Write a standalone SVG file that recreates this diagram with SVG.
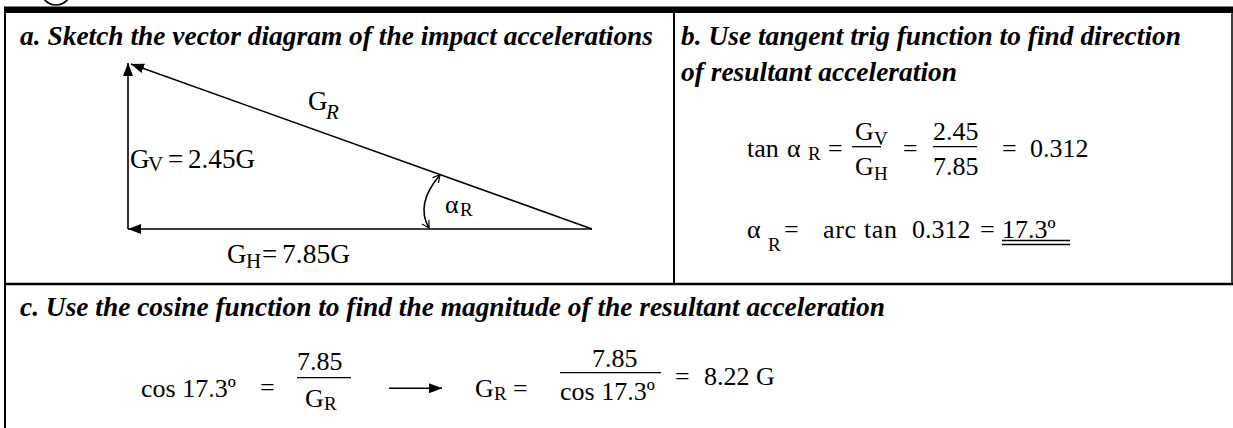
<svg xmlns="http://www.w3.org/2000/svg" width="1233" height="428" viewBox="0 0 1233 428">
<style>
.t{font-family:"Liberation Serif","Times New Roman",serif;font-weight:bold;font-style:italic;font-size:27.4px;fill:#000}
.m{font-family:"Liberation Serif","Times New Roman",serif;font-size:26px;fill:#000}
.v{font-size:27px}
.s{font-size:19px}
.s2{font-size:21px}
.i{font-style:italic}
.fr{stroke:#000;fill:none}
.ln{stroke:#000;stroke-width:1.6;fill:none}
.bar{stroke:#000;stroke-width:1.3}
</style>
<defs>
<marker id="ah" markerUnits="userSpaceOnUse" markerWidth="14" markerHeight="12" refX="13" refY="5" orient="auto"><path d="M0,0 L13,5 L0,10 z" fill="#000"/></marker>
<marker id="oa" markerUnits="userSpaceOnUse" markerWidth="10" markerHeight="10" refX="8" refY="4.5" orient="auto-start-reverse"><path d="M1,0.5 L8,4.5 L1,8.5" fill="none" stroke="#000" stroke-width="1.2"/></marker>
</defs>
<rect width="1233" height="428" fill="#fff"/>
<g id="frame">
<circle cx="56" cy="-10" r="15" class="fr" stroke-width="1.6"/>
<rect x="4" y="6.5" width="1229" height="6.5" fill="#000"/>
<line x1="5" y1="13" x2="5" y2="428" class="fr" stroke-width="2"/>
<line x1="674" y1="13" x2="674" y2="284" class="fr" stroke-width="2"/>
<line x1="4" y1="284" x2="1233" y2="284" class="fr" stroke-width="2.5"/>
<line x1="1232" y1="13" x2="1232" y2="284" class="fr" stroke-width="1.5"/>
</g>
<g id="panel-a">
<text class="t" x="20" y="45" textLength="633" lengthAdjust="spacing">a. Sketch the vector diagram of the impact accelerations</text>
</g>
<g id="connectors">
<line x1="128" y1="229" x2="128" y2="63" class="ln" marker-end="url(#ah)"/>
<line x1="592" y1="229" x2="128" y2="229" class="ln" marker-end="url(#ah)"/>
<line x1="592" y1="229" x2="131" y2="64" class="ln" marker-end="url(#ah)"/>
<path d="M429,228 Q415,204 440,175" class="ln" stroke-width="1.3" marker-start="url(#oa)" marker-end="url(#oa)"/>
</g>
<g id="label-GV">
<text class="m v" x="130" y="168">G</text>
<text class="m s2" x="148" y="171">V</text>
<text class="m v" x="168" y="168">=</text>
<text class="m v" x="188" y="168" textLength="67" lengthAdjust="spacingAndGlyphs">2.45G</text>
</g>
<g id="label-GR">
<text class="m v" x="308" y="110">G</text>
<text class="m s2 i" x="326" y="119">R</text>
</g>
<g id="label-GH">
<text class="m v" x="227" y="263">G</text>
<text class="m s2" x="246" y="268">H</text>
<text class="m v" x="262" y="263">=</text>
<text class="m v" x="282" y="263" textLength="68" lengthAdjust="spacingAndGlyphs">7.85G</text>
</g>
<g id="label-alpha">
<text class="m" x="445" y="213">α</text>
<text class="m s" x="460" y="216">R</text>
</g>
<g id="panel-b">
<text class="t" x="681" y="45" textLength="500" lengthAdjust="spacing">b. Use tangent trig function to find direction</text>
<text class="t" x="681" y="81" textLength="276" lengthAdjust="spacing">of resultant acceleration</text>
<text class="m" x="747" y="157">tan</text>
<text class="m" x="787" y="157">α</text>
<text class="m s" x="808" y="160">R</text>
<text class="m" x="828" y="157">=</text>
<text class="m" x="855" y="140">G</text>
<text class="m s" x="874" y="145">V</text>
<line x1="852" y1="146.7" x2="881" y2="146.7" class="bar"/>
<text class="m" x="855" y="175">G</text>
<text class="m s" x="874" y="180">H</text>
<text class="m" x="903" y="157">=</text>
<text class="m" x="933" y="140">2.45</text>
<line x1="933" y1="146.7" x2="977" y2="146.7" class="bar"/>
<text class="m" x="933" y="175">7.85</text>
<text class="m" x="1002" y="157">=</text>
<text class="m" x="1030" y="157">0.312</text>
<text class="m" x="747" y="238">α</text>
<text class="m s" x="768" y="251">R</text>
<text class="m" x="784" y="238">=</text>
<text class="m" x="823" y="238" textLength="74" lengthAdjust="spacing">arc tan</text>
<text class="m" x="912" y="238">0.312</text>
<text class="m" x="980" y="238">=</text>
<text class="m" x="1002" y="238">17.3º</text>
<line x1="1002" y1="240.5" x2="1070" y2="240.5" class="bar"/>
<line x1="1002" y1="244.5" x2="1070" y2="244.5" class="bar"/>
</g>
<g id="panel-c">
<text class="t" x="20" y="316" textLength="865" lengthAdjust="spacing">c. Use the cosine function to find the magnitude of the resultant acceleration</text>
<text class="m" x="141" y="397">cos 17.3º</text>
<text class="m" x="260" y="396">=</text>
<text class="m" x="297" y="370">7.85</text>
<line x1="297" y1="377.7" x2="351" y2="377.7" class="bar"/>
<text class="m" x="305" y="407">G</text>
<text class="m s" x="324" y="410">R</text>
<line x1="389" y1="388.3" x2="442" y2="388.3" class="ln" stroke-width="1.5" marker-end="url(#ah)"/>
<text class="m" x="475" y="397">G</text>
<text class="m s" x="494" y="400">R</text>
<text class="m" x="513" y="397">=</text>
<text class="m" x="592" y="367">7.85</text>
<line x1="560" y1="372.7" x2="661" y2="372.7" class="bar"/>
<text class="m" x="560" y="400">cos 17.3º</text>
<text class="m" x="675" y="385">=</text>
<text class="m" x="704" y="385">8.22 G</text>
</g>
</svg>
